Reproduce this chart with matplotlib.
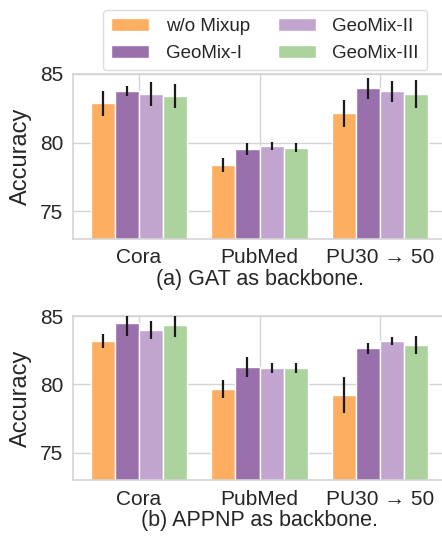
import numpy as np
import matplotlib
matplotlib.use("Agg")
import matplotlib.pyplot as plt

plt.rcParams['font.family'] = ['Liberation Sans', 'DejaVu Sans']

datasets = ['Cora', 'PubMed', 'PU30 → 50']
methods = ['w/o Mixup', 'GeoMix-I', 'GeoMix-II', 'GeoMix-III']
colors = ['#fdae61', '#9970ab', '#c2a5cf', '#acd39e']

# (a) GAT backbone
gat_mean = [[82.85, 78.38, 82.13],
            [83.77, 79.55, 83.95],
            [83.53, 79.73, 83.73],
            [83.40, 79.63, 83.55]]
gat_err = [[0.90, 0.49, 1.00],
           [0.38, 0.43, 0.78],
           [0.87, 0.30, 0.77],
           [0.90, 0.32, 1.00]]

# (b) APPNP backbone
appnp_mean = [[83.15, 79.66, 79.23],
              [84.51, 81.28, 82.66],
              [83.98, 81.20, 83.15],
              [84.34, 81.20, 82.88]]
appnp_err = [[0.52, 0.65, 1.30],
             [0.97, 0.70, 0.40],
             [0.66, 0.38, 0.30],
             [0.87, 0.38, 0.65]]

captions = ['(a) GAT as backbone.', '(b) APPNP as backbone.']

grid_c = '#d4d4d4'
text_c = '#262626'


def draw(ax, means, errs, caption):
    x = np.arange(len(datasets))
    w = 0.2
    bars = []
    for k in range(len(methods)):
        pos = x + (k - 1.5) * w
        b = ax.bar(pos, means[k], width=w, color=colors[k], edgecolor='white',
                   linewidth=1.0, label=methods[k], zorder=2)
        ax.errorbar(pos, means[k], yerr=errs[k], fmt='none', ecolor='#1a1a1a',
                    elinewidth=1.6, capsize=0, zorder=3)
        bars.append(b)
    ax.set_ylim(73, 85)
    ax.set_xlim(-0.548, 2.55)
    ax.set_xticks(x)
    ax.set_xticklabels(datasets)
    ax.set_yticks([75, 80, 85])
    ax.grid(True, color=grid_c, linewidth=1.0, zorder=0)
    ax.set_axisbelow(True)
    for s in ax.spines.values():
        s.set_color(grid_c)
        s.set_linewidth(1.2)
    ax.tick_params(length=0, labelsize=15, colors=text_c, pad=7)
    ax.set_ylabel('Accuracy', fontsize=17, color=text_c, labelpad=6)
    ax.set_xlabel(caption, fontsize=15.5, color=text_c, labelpad=1)
    return bars


fig = plt.figure(figsize=(4.42, 5.38), dpi=100)
ax1 = fig.add_axes([0.165, 0.5563, 1.01 - 0.165, 0.8625 - 0.5563])
ax2 = fig.add_axes([0.165, 0.1073, 1.01 - 0.165, 0.4126 - 0.1073])

bars = draw(ax1, gat_mean, gat_err, captions[0])
draw(ax2, appnp_mean, appnp_err, captions[1])

leg = fig.legend(bars, methods, loc='upper right', bbox_to_anchor=(0.988, 0.999),
                 ncol=2, fontsize=13.5, frameon=True, fancybox=True,
                 handlelength=2.0, columnspacing=1.5, handletextpad=0.9,
                 labelspacing=0.5, borderpad=0.45)
leg.get_frame().set_edgecolor(grid_c)
for t in leg.get_texts():
    t.set_color(text_c)

fig.savefig('out.png', dpi=100)
